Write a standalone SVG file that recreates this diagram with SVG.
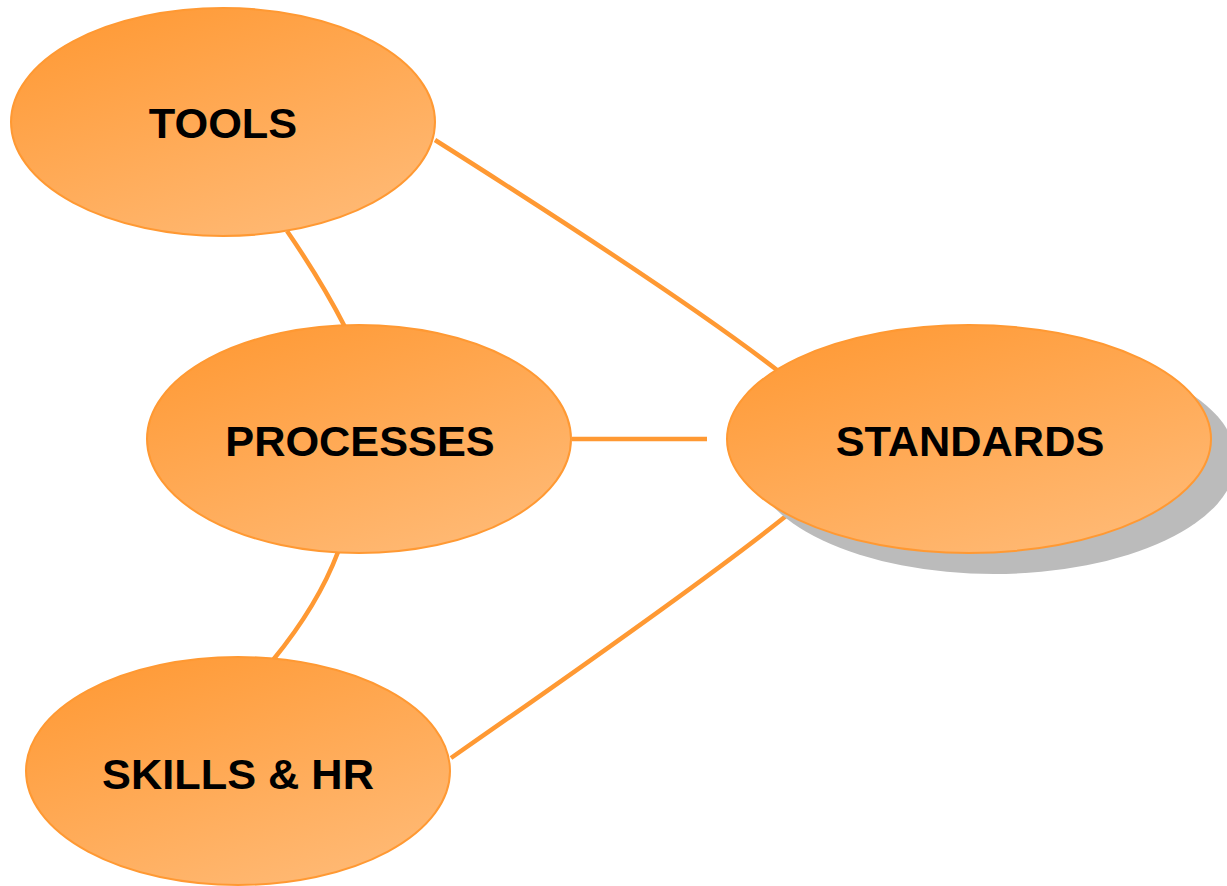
<svg xmlns="http://www.w3.org/2000/svg" width="1227" height="886" viewBox="0 0 1227 886">
  <defs>
    <linearGradient id="g" x1="0.2" y1="0" x2="0.8" y2="1">
      <stop offset="0" stop-color="#FF9A36"/>
      <stop offset="1" stop-color="#FFBA76"/>
    </linearGradient>
    <style>
      .node { fill: url(#g); stroke: #FF9933; stroke-width: 2; }
      .lbl { font-family: "Liberation Sans", Arial, sans-serif; font-weight: bold; font-size: 43.3px; fill: #000; text-anchor: middle; }
      .edge { fill: none; stroke: #FF9933; stroke-width: 4.5; }
    </style>
  </defs>
  <rect width="1227" height="886" fill="#FFFFFF"/>
  <g id="connectors">
    <path class="edge" d="M435,140 Q680,295 777,370"/>
    <path class="edge" d="M287,231 Q322,282 345,327"/>
    <path class="edge" d="M572,439 L707,439"/>
    <path class="edge" d="M338,552 Q318,605 273,660"/>
    <path class="edge" d="M451,758 Q700,585 786,516"/>
  </g>
  <g id="tools">
    <ellipse class="node" cx="223" cy="122" rx="212" ry="114"/>
    <text class="lbl" x="223" y="138">TOOLS</text>
  </g>
  <g id="processes">
    <ellipse class="node" cx="359" cy="439" rx="212" ry="114"/>
    <text class="lbl" x="360" y="456">PROCESSES</text>
  </g>
  <g id="skills">
    <ellipse class="node" cx="238" cy="771" rx="212" ry="114"/>
    <text class="lbl" x="238" y="789">SKILLS &amp; HR</text>
  </g>
  <g id="standards">
    <ellipse cx="994" cy="460" rx="242" ry="114" fill="#BBBBBB"/>
    <ellipse class="node" cx="969" cy="439" rx="242" ry="114"/>
    <text class="lbl" x="970" y="456">STANDARDS</text>
  </g>
</svg>
